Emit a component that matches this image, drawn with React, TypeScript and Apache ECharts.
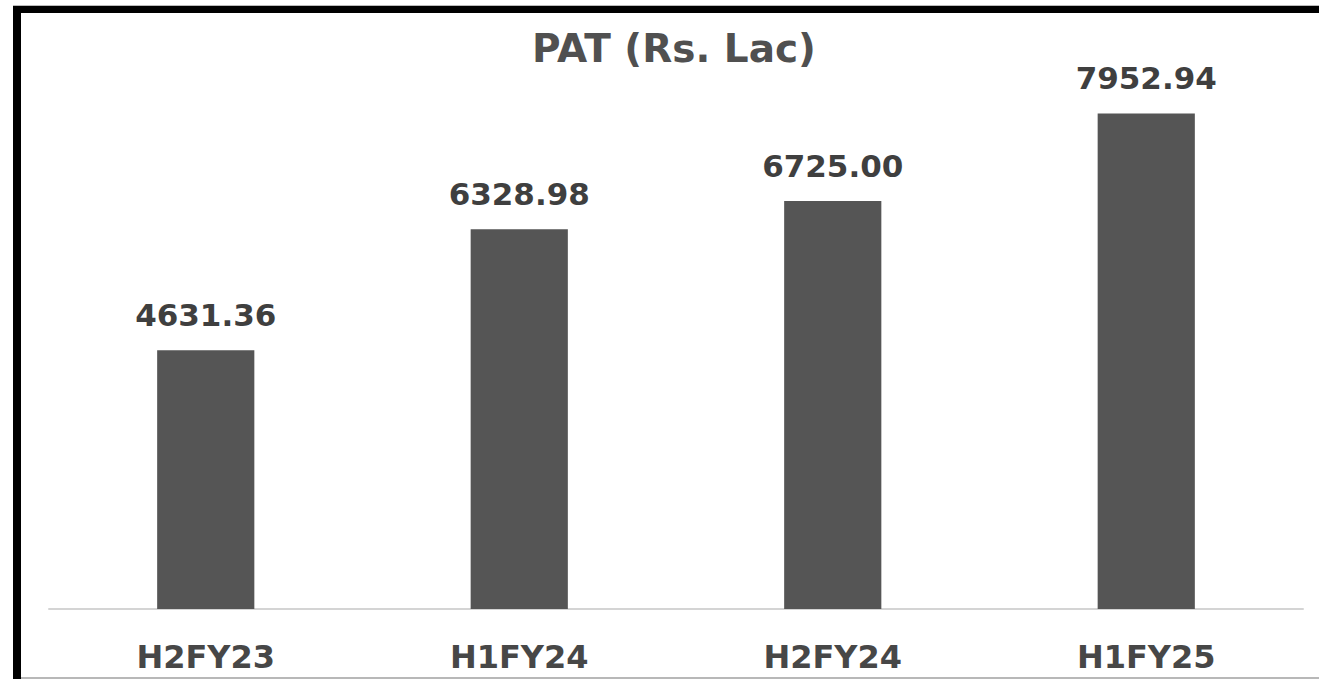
import React, { useEffect, useRef } from "react";
import * as echarts from "echarts";

const categories = ["H2FY23", "H1FY24", "H2FY24", "H1FY25"];
const patValues = [4631.36, 6328.98, 6725.0, 7952.94];
const titleText = "PAT (Rs. Lac)";

export default function App() {
  const ref = useRef<HTMLDivElement>(null);
  useEffect(() => {
    if (!ref.current) return;
    const chart = echarts.init(ref.current, undefined, { renderer: "svg" });
    const font = "'DejaVu Sans', Arial, sans-serif";
    chart.setOption({
      animation: false,
      backgroundColor: "#ffffff",
      title: {
        text: titleText,
        left: 527,
        top: 24,
        textStyle: { fontFamily: font, fontWeight: "bold", fontSize: 39, color: "#505050" },
      },
      grid: { left: 49, right: 16, top: 39, bottom: 70 },
      xAxis: {
        type: "category",
        data: categories,
        axisLine: { show: true, lineStyle: { color: "#d4d4d4", width: 2 } },
        axisTick: { show: false },
        axisLabel: {
          margin: 32,
          fontFamily: font,
          fontWeight: "bold",
          fontSize: 32,
          color: "#474747",
        },
      },
      yAxis: {
        type: "value",
        min: 1000,
        max: 9000,
        show: false,
        splitLine: { show: false },
      },
      series: [
        {
          type: "bar",
          data: patValues,
          barWidth: "31%",
          itemStyle: { color: "#555555" },
          label: {
            show: true,
            position: "top",
            distance: 20,
            fontFamily: font,
            fontWeight: "bold",
            fontSize: 31,
            color: "#3f3f3f",
            formatter: (p: any) => Number(p.value).toFixed(2),
          },
        },
      ],
      graphic: [
        { type: "rect", shape: { x: 13, y: 5, width: 1306, height: 1 }, style: { fill: "#bbbbbb" } },
        { type: "rect", shape: { x: 13, y: 6, width: 1306, height: 7 }, style: { fill: "#000000" } },
        { type: "rect", shape: { x: 13, y: 6, width: 8, height: 673 }, style: { fill: "#000000" } },
        { type: "rect", shape: { x: 21, y: 677, width: 1298, height: 2 }, style: { fill: "#b8b8b8" } },
      ],
    });
    return () => chart.dispose();
  }, []);
  return (
    <div
      ref={ref}
      style={{ position: "fixed", left: 0, top: 0, width: 1319, height: 679 }}
    />
  );
}
